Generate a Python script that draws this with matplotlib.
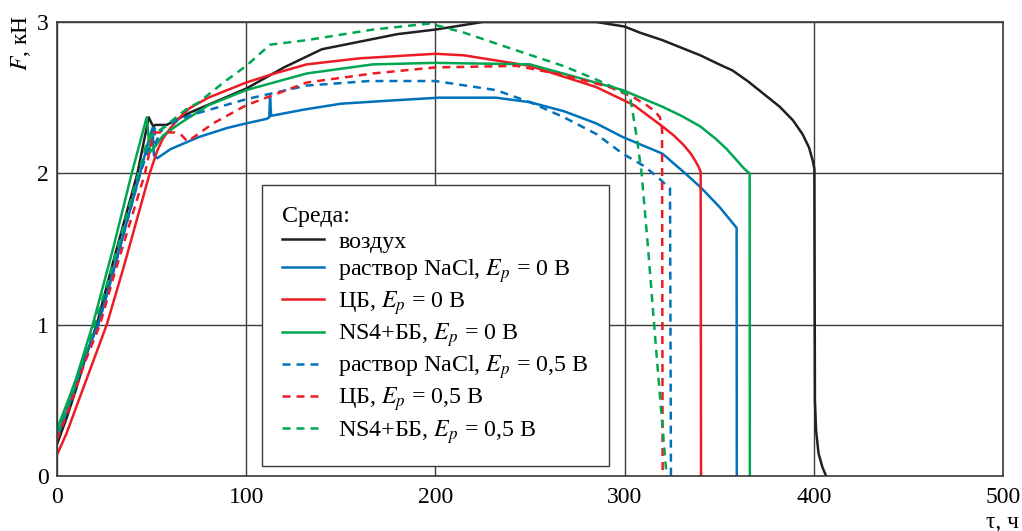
import matplotlib
matplotlib.use("Agg")
import matplotlib.pyplot as plt

plt.rcParams["font.family"] = ["Liberation Serif", "DejaVu Serif"]
plt.rcParams["mathtext.fontset"] = "stix"

# воздух
air_t = [0, 5, 10, 15, 21, 30, 42.5, 48.5, 50, 51, 52, 58, 70, 85, 100, 120, 140, 160,
         180, 200, 215, 225, 285, 300, 308, 320, 330, 340, 350, 357, 365, 372, 382,
         389, 394, 397.5, 399.5, 400.3, 400.5, 400.6, 401.2, 402.5, 404.5, 406.5]
air_f = [0.21, 0.38, 0.57, 0.78, 1.00, 1.43, 2.00, 2.37, 2.33, 2.31, 2.32, 2.32, 2.40,
         2.48, 2.56, 2.70, 2.82, 2.87, 2.92, 2.95, 2.98, 3.00, 3.00, 2.97, 2.93, 2.88,
         2.83, 2.78, 2.72, 2.68, 2.61, 2.54, 2.44, 2.35, 2.26, 2.17, 2.08, 2.03, 1.00,
         0.50, 0.30, 0.15, 0.06, 0.0]

# раствор NaCl, 0 В
nacl0_t = [0, 5, 10, 15, 21.8, 30, 43.9, 48, 50.5, 51.2, 53, 60, 75, 90, 100, 110.8,
           112.2, 112.6, 113.2, 130, 150, 175, 202, 232, 250, 268, 285, 299, 320, 332,
           340, 350, 359.2, 359.3]
nacl0_f = [0.26, 0.42, 0.60, 0.80, 1.00, 1.36, 2.00, 2.20, 2.30, 2.12, 2.10, 2.16, 2.24,
           2.30, 2.33, 2.36, 2.37, 2.50, 2.38, 2.42, 2.46, 2.48, 2.50, 2.50, 2.47, 2.41,
           2.33, 2.24, 2.13, 2.00, 1.91, 1.78, 1.64, 0.0]

# ЦБ, 0 В
cb0_t = [0, 5, 10, 18, 26.3, 35, 49, 53, 56, 60, 65, 70, 80, 100, 115, 132, 160, 200,
         215, 250, 285, 305, 320, 326, 331, 335, 337.5, 339.2, 340.2, 340.4]
cb0_f = [0.14, 0.28, 0.45, 0.72, 1.00, 1.37, 2.00, 2.15, 2.23, 2.30, 2.37, 2.43, 2.50,
         2.60, 2.66, 2.72, 2.76, 2.79, 2.78, 2.71, 2.57, 2.45, 2.31, 2.25, 2.19, 2.13,
         2.08, 2.04, 2.01, 0.0]

# NS4+ББ, 0 В
ns0_t = [0, 5, 10, 18.9, 30, 39.5, 47.4, 49.2, 52, 56, 65, 80, 100, 132, 167, 200, 250,
         276, 299, 320, 330, 340, 348, 354, 359, 362.5, 365, 366.1, 366.2]
ns0_f = [0.31, 0.47, 0.64, 1.00, 1.52, 2.00, 2.37, 2.14, 2.18, 2.25, 2.33, 2.45, 2.55,
         2.66, 2.72, 2.73, 2.72, 2.63, 2.55, 2.44, 2.38, 2.31, 2.23, 2.16, 2.09, 2.04,
         2.01, 2.00, 0.0]

# раствор NaCl, 0,5 В
nacl5_t = [0, 5, 10, 15, 21.8, 30, 44, 48, 51.5, 52, 56, 65, 75, 100, 132, 165, 200,
           232, 250, 268, 285, 299, 310, 317, 324, 324.5]
nacl5_f = [0.27, 0.43, 0.61, 0.80, 1.00, 1.36, 2.00, 2.15, 2.30, 2.20, 2.30, 2.36, 2.40,
           2.49, 2.58, 2.61, 2.61, 2.55, 2.47, 2.37, 2.26, 2.13, 2.05, 1.98, 1.90, 0.0]

# ЦБ, 0,5 В
cb5_t = [0, 5, 10, 15, 22.7, 30, 46.5, 49, 51, 62, 66, 69, 73.5, 82.5, 100, 132, 167,
         200, 243, 267.5, 292, 305, 311.7, 316, 318.7, 319.8, 320.1]
cb5_f = [0.24, 0.40, 0.58, 0.76, 1.00, 1.32, 2.00, 2.15, 2.27, 2.27, 2.25, 2.21, 2.25,
         2.33, 2.45, 2.60, 2.66, 2.70, 2.71, 2.65, 2.57, 2.50, 2.45, 2.41, 2.37, 2.29, 0.0]

# NS4+ББ, 0,5 В
ns5_t = [0, 5, 10, 20, 30, 43, 47, 50, 56, 62, 68, 75, 88, 100, 112.6, 132, 167, 197,
         215, 241, 267.5, 285, 299, 303, 306.4, 309, 312.5, 316, 319.6, 322.2]
ns5_f = [0.28, 0.44, 0.62, 1.00, 1.42, 2.00, 2.18, 2.25, 2.30, 2.36, 2.42, 2.47, 2.60,
         2.71, 2.85, 2.88, 2.95, 2.99, 2.93, 2.82, 2.71, 2.62, 2.54, 2.50, 2.24, 2.00,
         1.49, 0.94, 0.39, 0.0]

BLACK = "#231f20"
BLUE = "#0072bc"
RED = "#ed1c24"
GREEN = "#00a651"

series = [
    (air_t, air_f, BLACK, "-", "воздух"),
    (nacl0_t, nacl0_f, BLUE, "-", r"раствор NaCl, $E_p$ = 0 В"),
    (cb0_t, cb0_f, RED, "-", r"ЦБ, $E_p$ = 0 В"),
    (ns0_t, ns0_f, GREEN, "-", r"NS4+ББ, $E_p$ = 0 В"),
    (nacl5_t, nacl5_f, BLUE, "--", r"раствор NaCl, $E_p$ = 0,5 В"),
    (cb5_t, cb5_f, RED, "--", r"ЦБ, $E_p$ = 0,5 В"),
    (ns5_t, ns5_f, GREEN, "--", r"NS4+ББ, $E_p$ = 0,5 В"),
]

fig = plt.figure(figsize=(10.22, 5.31), dpi=100)
ax = fig.add_axes([57 / 1022, 55 / 531, 946 / 1022, 454 / 531])

for t, f, color, ls, label in series:
    line, = ax.plot(t, f, color=color, lw=1.8, ls=ls, label=label)
    if ls == "--":
        line.set_dashes((3.2, 2.4))

ax.set_xlim(0, 500)
ax.set_ylim(0, 3)
ax.set_xticks([0, 100, 200, 300, 400, 500])
ax.set_yticks([0, 1, 2, 3])
ax.tick_params(axis="both", length=0, labelsize=17)
ax.tick_params(axis="x", pad=8)
ax.tick_params(axis="y", pad=6)
ax.grid(True, color="#3a3a3a", lw=1.0)
ax.set_axisbelow(True)
for sp in ax.spines.values():
    sp.set_color("#3a3a3a")
    sp.set_linewidth(1.2)

fig.text(21 / 1022, 1 - 15 / 531, r"$F$, кН", rotation=90, ha="center", va="top",
         fontsize=17)
fig.text(1019 / 1022, 1 - 522 / 531, "τ, ч", ha="right", va="center", fontsize=17)

leg = ax.legend(
    loc="lower left",
    bbox_to_anchor=(0.2167, 0.022),
    borderaxespad=0.0,
    title="Среда:",
    fontsize=17.3,
    title_fontsize=17.3,
    alignment="left",
    handlelength=1.75,
    handletextpad=0.58,
    labelspacing=0.18,
    borderpad=0.85,
    fancybox=False,
    framealpha=1,
    edgecolor="#3a3a3a",
)
leg.get_frame().set_linewidth(1.0)

fig.savefig("out.png", dpi=100)
